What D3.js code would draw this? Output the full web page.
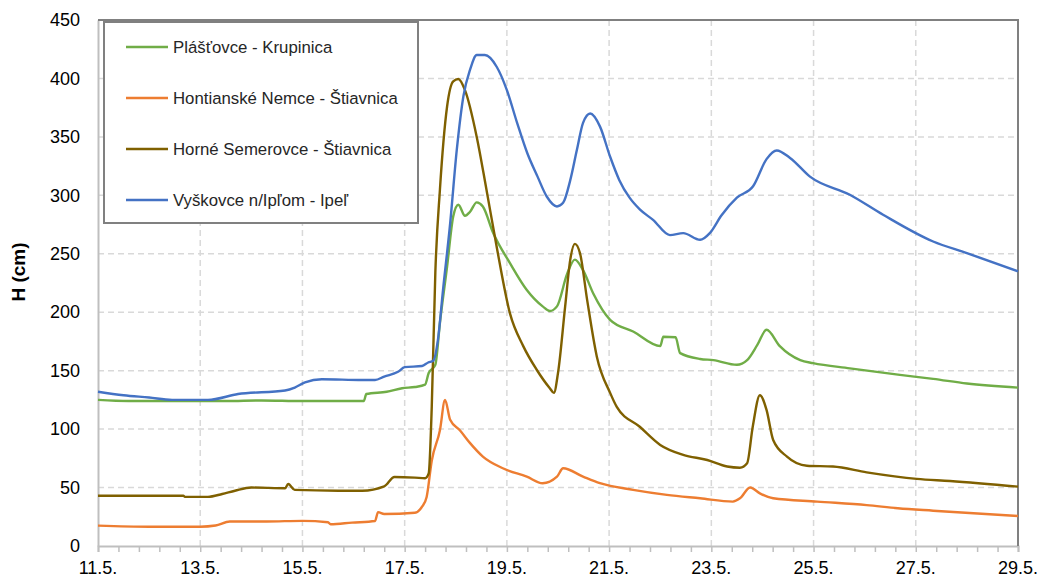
<!DOCTYPE html>
<html>
<head>
<meta charset="utf-8">
<script src="https://cdn.jsdelivr.net/npm/d3@7"></script>
<style>
  body { margin: 0; background: #fff; }
  text { font-family: "Liberation Sans", Arial, sans-serif; fill: #000; }
</style>
</head>
<body>
<div id="chart"></div>
<script>
// x = day of May (fractional), y = water level H in cm
const xTicks = [11, 13, 15, 17, 19, 21, 23, 25, 27, 29];
const yTicks = [0, 50, 100, 150, 200, 250, 300, 350, 400, 450];

const seriesNames = [
  'Plášťovce - Krupinica',
  'Hontianské Nemce - Štiavnica',
  'Horné Semerovce - Štiavnica',
  'Vyškovce n/Ipľom - Ipeľ'
];

const plastovce = [[11.0,125],[11.6,124],[12.5,124],[13.5,124],[14.2,124.5],[15.0,124],[16.2,124],[16.25,130],[16.65,132],[16.95,135],[17.2,136],[17.4,138],[17.47,148],[17.6,155],[17.69,191],[17.83,239],[17.95,282],[18.05,292],[18.18,282.5],[18.28,286],[18.41,294],[18.53,290.5],[18.73,268],[19.06,242],[19.39,219],[19.7,205],[19.84,201],[19.98,205],[20.18,233],[20.33,245],[20.49,236],[20.69,216],[21.02,193.5],[21.47,183.5],[22.0,171],[22.06,179],[22.3,178.6],[22.39,165],[22.78,160],[23.04,159],[23.5,155],[23.7,159],[23.9,172],[24.08,185],[24.34,171],[24.74,159],[24.99,156.4],[25.71,152],[26.69,146.4],[27.34,143],[28.0,139],[29.0,135.5]];

const hontianske = [[11.0,17.4],[12.0,16.5],[13.0,16.5],[13.3,17.5],[13.58,21],[14.3,21],[15.0,21.5],[15.5,20.3],[15.55,18.6],[15.97,20],[16.42,21.4],[16.48,29],[16.6,27.4],[17.2,28.5],[17.34,33.6],[17.43,42],[17.53,73],[17.69,99],[17.79,125],[17.89,108],[18.08,99],[18.28,88],[18.53,76.5],[18.92,66.5],[19.39,59.3],[19.7,53.7],[19.98,59.3],[20.1,66.5],[20.49,59.3],[20.82,53.7],[21.47,48],[22.13,43.7],[22.78,40.8],[23.42,38],[23.56,40.8],[23.76,50],[23.95,45],[24.21,40.8],[25.07,38],[26.04,35],[26.65,32.3],[27.34,30.2],[29.0,25.7]];

const semerovce = [[11.0,43],[12.67,43],[12.7,42],[13.15,42],[13.43,44.5],[13.68,47.3],[14.0,50],[14.66,49.4],[14.72,53],[14.85,48],[15.7,47.3],[16.17,47.3],[16.6,51],[16.8,59],[17.2,58.5],[17.4,58],[17.47,62],[17.53,119],[17.6,234],[17.69,305],[17.83,376],[17.95,397.5],[18.05,399.5],[18.18,390],[18.41,350],[18.6,305],[18.8,256],[19.06,199],[19.32,171],[19.58,151],[19.84,135],[19.92,131],[20.0,148],[20.14,205],[20.24,245],[20.33,258.5],[20.43,250.6],[20.57,210.6],[20.76,162],[21.02,131],[21.15,119],[21.6,102],[22.0,86.5],[22.45,78],[22.92,73.6],[23.31,68],[23.56,67],[23.7,70.8],[23.81,102],[23.95,129],[24.08,116.4],[24.21,90.7],[24.48,76.5],[24.87,68.7],[25.38,68],[26.04,63],[27.02,57.4],[27.67,55.6],[29.0,50.8]];

const vyskovce = [[11.0,132],[11.5,129],[12.0,127],[12.45,125],[13.15,125],[13.74,130],[14.66,133],[14.85,135.5],[15.05,140],[15.38,142.7],[16.17,142],[16.42,142],[16.6,145],[16.87,149],[17.0,153],[17.34,154],[17.46,157],[17.56,158.5],[17.65,176],[17.75,219],[17.89,276],[18.02,339],[18.15,385],[18.28,407.5],[18.41,420],[18.57,420],[18.8,410],[19.0,390],[19.2,362],[19.4,336],[19.6,316],[19.78,299],[19.98,290.5],[20.1,293.6],[20.24,313],[20.37,339],[20.49,362],[20.63,370],[20.82,359],[21.02,333],[21.2,313],[21.4,298],[21.6,288],[21.86,279],[22.19,266],[22.45,267.7],[22.78,262],[22.97,267.7],[23.2,283],[23.5,298],[23.82,308],[24.08,331],[24.28,338.4],[24.54,332],[24.93,316],[25.71,300.5],[26.36,283.4],[27.34,260.5],[28.0,250.6],[29.0,235]];

const seriesData = [plastovce, hontianske, semerovce, vyskovce];
const colors = ['#70ad47', '#ed7d31', '#7f6000', '#4472c4'];

const width = 1039, height = 577;
const margin = { top: 20, right: 21, bottom: 31, left: 98 };
const plotWidth = width - margin.left - margin.right;
const plotHeight = height - margin.top - margin.bottom;

const svg = d3.select('#chart').append('svg')
  .attr('width', width)
  .attr('height', height);

const plot = svg.append('g')
  .attr('transform', `translate(${margin.left},${margin.top})`);

const xScale = d3.scaleLinear().domain([11, 29]).range([0, plotWidth]);
const yScale = d3.scaleLinear().domain([0, 450]).range([plotHeight, 0]);

// grid
plot.append('g').selectAll('line')
  .data(yTicks.slice(1, -1))
  .join('line')
  .attr('x1', 0).attr('x2', plotWidth)
  .attr('y1', d => yScale(d)).attr('y2', d => yScale(d))
  .attr('stroke', '#d9d9d9').attr('stroke-width', 1.5)
  .attr('stroke-dasharray', '6,4');

plot.append('g').selectAll('line')
  .data(xTicks.slice(1, -1))
  .join('line')
  .attr('x1', d => xScale(d)).attr('x2', d => xScale(d))
  .attr('y1', 0).attr('y2', plotHeight)
  .attr('stroke', '#d9d9d9').attr('stroke-width', 1.5)
  .attr('stroke-dasharray', '6,4');

// x axis with minor ticks
const xAxis = d3.axisBottom(xScale)
  .tickValues(d3.range(11, 29.01, 0.4))
  .tickSize(6)
  .tickFormat('');
const xAxisGroup = plot.append('g')
  .attr('transform', `translate(0,${plotHeight})`)
  .call(xAxis);
xAxisGroup.select('.domain').attr('stroke', '#bfbfbf').attr('stroke-width', 2);
xAxisGroup.selectAll('.tick line').attr('stroke', '#bfbfbf').attr('stroke-width', 1.5);

plot.append('g').selectAll('text')
  .data(xTicks)
  .join('text')
  .attr('x', d => xScale(d))
  .attr('y', plotHeight + 28)
  .attr('text-anchor', 'middle')
  .style('font-size', '18px')
  .text(d => d + '.5.');

// y axis
const yAxis = d3.axisLeft(yScale).tickValues(yTicks).tickSize(0).tickPadding(18);
const yAxisGroup = plot.append('g').call(yAxis);
yAxisGroup.select('.domain').attr('stroke', '#bfbfbf').attr('stroke-width', 2);
yAxisGroup.selectAll('.tick text')
  .style('font-size', '18px')
  .style('font-family', '"Liberation Sans", Arial, sans-serif')
  .attr('fill', '#000');

// frame top and right
plot.append('path')
  .attr('d', `M0,0H${plotWidth}V${plotHeight}`)
  .attr('fill', 'none')
  .attr('stroke', '#808080')
  .attr('stroke-width', 2);

svg.append('text')
  .attr('transform', `translate(25,${margin.top + 252}) rotate(-90)`)
  .attr('text-anchor', 'middle')
  .style('font-size', '19px')
  .style('font-weight', 'bold')
  .text('H (cm)');

// lines
const line = d3.line()
  .x(d => xScale(d[0]))
  .y(d => yScale(d[1]))
  .curve(d3.curveMonotoneX);

plot.append('g').selectAll('path')
  .data(seriesData)
  .join('path')
  .attr('fill', 'none')
  .attr('stroke', (d, i) => colors[i])
  .attr('stroke-width', 2.4)
  .attr('stroke-linejoin', 'round')
  .attr('d', line);

// legend
const legend = svg.append('g').attr('transform', 'translate(104,22)');
legend.append('rect')
  .attr('width', 314).attr('height', 201)
  .attr('fill', '#fff')
  .attr('stroke', '#808080')
  .attr('stroke-width', 2);

const items = legend.selectAll('g.item')
  .data(seriesNames)
  .join('g')
  .attr('class', 'item')
  .attr('transform', (d, i) => `translate(0,${25 + i * 51})`);
items.append('line')
  .attr('x1', 22).attr('x2', 64)
  .attr('stroke', (d, i) => colors[i])
  .attr('stroke-width', 2.4);
items.append('text')
  .attr('x', 69).attr('y', 6)
  .style('font-size', '16.8px')
  .style('fill', '#262626')
  .text(d => d);
</script>
</body>
</html>
